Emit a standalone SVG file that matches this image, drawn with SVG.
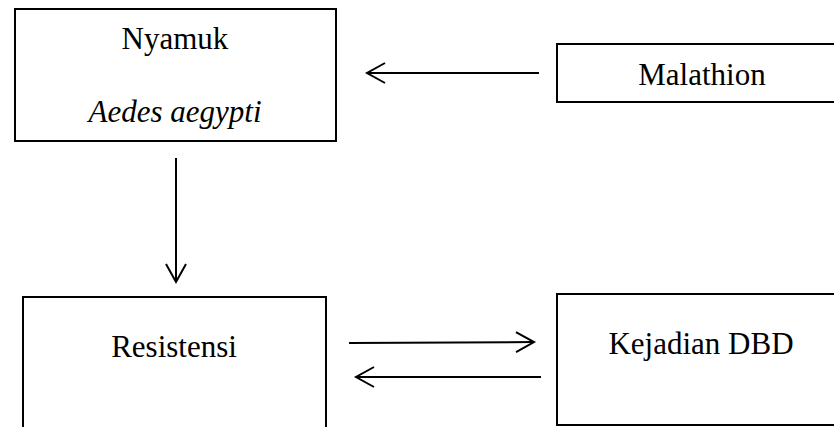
<svg xmlns="http://www.w3.org/2000/svg" width="834" height="427" viewBox="0 0 834 427">
<style>
.box{fill:#fff;stroke:#000;stroke-width:2}
.lbl{font-family:"Liberation Serif","Times New Roman",serif;font-size:31px;fill:#000;text-anchor:middle}
.it{font-style:italic}
.conn{stroke:#000;stroke-width:2;fill:none}
</style>
<defs>
<marker id="ah" markerUnits="userSpaceOnUse" markerWidth="24" markerHeight="26" viewBox="-20 -12 24 24" refX="0" refY="0" orient="auto">
<path d="M-18,-10 L0,0 L-18,10" fill="none" stroke="#000" stroke-width="2"/>
</marker>
</defs>
<rect x="0" y="0" width="834" height="427" fill="#fff"/>
<g id="nyamuk">
<rect class="box" x="15" y="9" width="321" height="132"/>
<text class="lbl" x="175" y="49">Nyamuk</text>
<text class="lbl it" x="175" y="122">Aedes aegypti</text>
</g>
<g id="malathion">
<rect class="box" x="557" y="44" width="290" height="58"/>
<text class="lbl" x="702" y="85">Malathion</text>
</g>
<g id="resistensi">
<rect class="box" x="23" y="297" width="303" height="150"/>
<text class="lbl" x="174" y="357">Resistensi</text>
</g>
<g id="kejadian">
<rect class="box" x="557" y="294" width="290" height="131"/>
<text class="lbl" x="701" y="354">Kejadian DBD</text>
</g>
<g id="connectors">
<line class="conn" x1="539" y1="73" x2="367" y2="73" marker-end="url(#ah)"/>
<line class="conn" x1="176" y1="158" x2="176" y2="282" marker-end="url(#ah)"/>
<line class="conn" x1="349" y1="343" x2="534" y2="342" marker-end="url(#ah)"/>
<line class="conn" x1="541" y1="377" x2="356" y2="377" marker-end="url(#ah)"/>
</g>
</svg>
